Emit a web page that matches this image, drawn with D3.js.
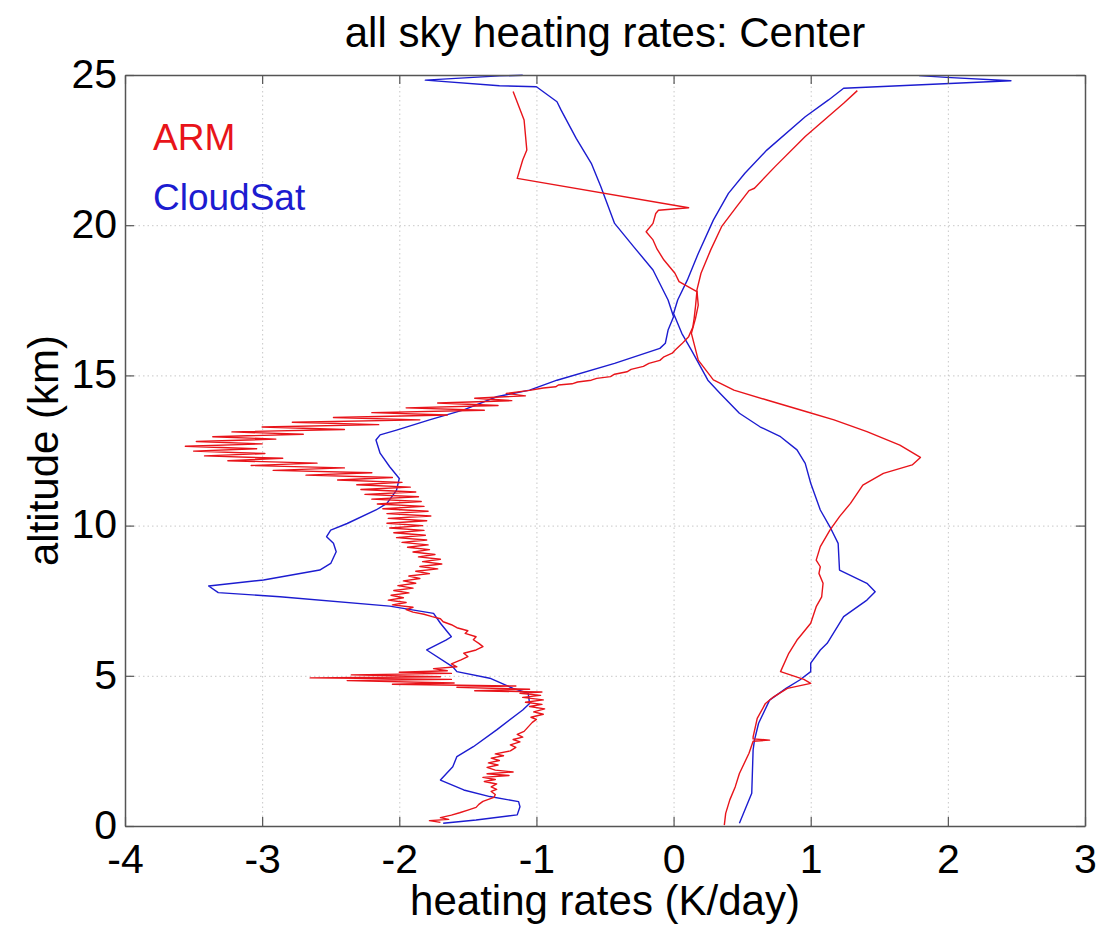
<!DOCTYPE html>
<html>
<head>
<meta charset="utf-8">
<script src="https://cdn.jsdelivr.net/npm/d3@7"></script>
<style>
  body { margin: 0; background: #fff; }
  svg { display: block; font-family: "Liberation Sans", Arial, sans-serif; }
  .grid line { stroke: #c8c8c8; stroke-dasharray: 1.5 3; }
  .grid .domain { display: none; }
  .frame .domain { stroke: #555; stroke-width: 1.5; }
  .frame line { stroke: #555; stroke-width: 1.2; }
</style>
</head>
<body>
<div id="chart"></div>
<script>
// heating rate (K/day) vs altitude (km)
const xTicks = [-4, -3, -2, -1, 0, 1, 2, 3];
const yTicks = [0, 5, 10, 15, 20, 25];

const armLW = [
  [-1.70, 0.12], [-1.78, 0.18], [-1.64, 0.22], [-1.70, 0.28], [-1.62, 0.36], [-1.56, 0.44],
  [-1.50, 0.53], [-1.44, 0.62], [-1.42, 0.72], [-1.39, 0.82], [-1.31, 0.95], [-1.30, 1.05],
  [-1.33, 1.15], [-1.29, 1.22], [-1.33, 1.30], [-1.29, 1.40], [-1.38, 1.48], [-1.30, 1.55],
  [-1.39, 1.62], [-1.20, 1.68], [-1.36, 1.74], [-1.17, 1.80], [-1.30, 1.86], [-1.36, 1.95],
  [-1.28, 2.03], [-1.35, 2.10], [-1.27, 2.18], [-1.33, 2.26], [-1.24, 2.34], [-1.30, 2.40],
  [-1.19, 2.50], [-1.15, 2.62], [-1.19, 2.70], [-1.12, 2.80], [-1.17, 2.88], [-1.10, 2.96],
  [-1.14, 3.05], [-1.09, 3.15], [-1.06, 3.30], [-1.03, 3.45], [-1.00, 3.55], [-1.04, 3.62],
  [-0.95, 3.72], [-1.02, 3.80], [-0.94, 3.90], [-1.05, 3.98], [-0.96, 4.05], [-1.08, 4.12],
  [-0.95, 4.20], [-1.10, 4.28], [-0.97, 4.35], [-1.12, 4.42], [-0.96, 4.46], [-1.45, 4.50],
  [-1.05, 4.55], [-1.58, 4.62], [-1.15, 4.66], [-2.05, 4.72], [-1.60, 4.76], [-2.38, 4.84],
  [-1.62, 4.88], [-2.65, 4.93], [-1.70, 4.97], [-2.35, 5.03], [-1.62, 5.08], [-2.00, 5.12],
  [-1.65, 5.17], [-1.75, 5.24], [-1.58, 5.30], [-1.62, 5.40], [-1.55, 5.53], [-1.50, 5.64],
  [-1.53, 5.75], [-1.44, 5.86], [-1.39, 5.97], [-1.42, 6.08], [-1.46, 6.20], [-1.44, 6.30],
  [-1.52, 6.41], [-1.50, 6.50], [-1.58, 6.60], [-1.62, 6.70], [-1.68, 6.80], [-1.70, 6.90],
  [-1.76, 6.97], [-1.82, 7.05], [-1.90, 7.12], [-1.95, 7.20], [-1.90, 7.28], [-2.05, 7.36],
  [-1.95, 7.44], [-2.08, 7.52], [-1.97, 7.60], [-2.06, 7.68], [-1.93, 7.76], [-2.04, 7.84],
  [-1.90, 7.92], [-2.01, 8.00], [-1.88, 8.08], [-1.97, 8.16], [-1.85, 8.24], [-1.93, 8.32],
  [-1.78, 8.40], [-1.88, 8.48], [-1.72, 8.56], [-1.85, 8.64], [-1.69, 8.72], [-1.83, 8.80],
  [-1.70, 8.88], [-1.86, 8.96], [-1.74, 9.04], [-1.90, 9.12], [-1.78, 9.20], [-1.94, 9.28],
  [-1.79, 9.36], [-1.98, 9.44], [-1.80, 9.52], [-2.02, 9.60], [-1.81, 9.68], [-2.04, 9.76],
  [-1.82, 9.84], [-2.07, 9.92], [-1.83, 10.00], [-2.09, 10.08], [-1.80, 10.16], [-2.08, 10.24],
  [-1.77, 10.32], [-2.09, 10.40], [-1.79, 10.48], [-2.12, 10.56], [-1.82, 10.64], [-2.16, 10.72],
  [-1.84, 10.80], [-2.20, 10.88], [-1.86, 10.96], [-2.25, 11.04], [-1.88, 11.12], [-2.28, 11.20],
  [-1.92, 11.28], [-2.31, 11.36], [-1.98, 11.44], [-2.45, 11.52], [-2.05, 11.60], [-2.68, 11.68],
  [-2.20, 11.76], [-2.92, 11.84], [-2.40, 11.92], [-3.08, 12.00], [-2.60, 12.08], [-3.25, 12.16],
  [-2.85, 12.24], [-3.42, 12.32], [-2.98, 12.40], [-3.50, 12.48], [-3.04, 12.56], [-3.56, 12.64],
  [-3.00, 12.72], [-3.48, 12.80], [-2.90, 12.88], [-3.36, 12.96], [-2.70, 13.04], [-3.22, 13.12],
  [-2.40, 13.20], [-3.00, 13.28], [-2.15, 13.36], [-2.78, 13.44], [-1.85, 13.52], [-2.48, 13.60],
  [-1.65, 13.68], [-2.20, 13.76], [-1.38, 13.84], [-1.95, 13.92], [-1.28, 14.00], [-1.72, 14.08],
  [-1.18, 14.16], [-1.45, 14.24], [-1.08, 14.32], [-1.22, 14.40], [-1.05, 14.50], [-0.95, 14.58],
  [-0.86, 14.62], [-0.84, 14.68], [-0.74, 14.72], [-0.70, 14.78], [-0.60, 14.84], [-0.56, 14.90],
  [-0.46, 14.96], [-0.43, 15.04], [-0.34, 15.12], [-0.31, 15.20], [-0.22, 15.30], [-0.18, 15.40],
  [-0.10, 15.50], [-0.07, 15.62], [-0.01, 15.74], [0.01, 15.84], [0.06, 16.05], [0.11, 16.29],
  [0.14, 16.60], [0.15, 16.90], [0.16, 17.30], [0.17, 17.79], [0.04, 18.12], [0.01, 18.40],
  [-0.07, 18.84], [-0.12, 19.20], [-0.15, 19.51], [-0.20, 19.78], [-0.15, 20.06], [-0.13, 20.39],
  [-0.11, 20.50], [0.11, 20.58], [-1.14, 21.56], [-1.10, 22.17], [-1.07, 22.50], [-1.09, 23.50],
  [-1.17, 24.45]
];

const armSW = [
  [0.37, 0.03], [0.38, 0.42], [0.41, 0.87], [0.45, 1.31], [0.48, 1.75], [0.55, 2.42],
  [0.58, 2.82], [0.70, 2.86], [0.58, 2.90], [0.58, 2.97], [0.61, 3.58], [0.67, 4.08],
  [0.73, 4.30], [0.83, 4.58], [1.00, 4.75], [0.95, 4.88], [0.78, 5.14], [0.84, 5.75],
  [0.90, 6.19], [0.92, 6.30], [1.00, 6.75], [1.04, 7.30], [1.08, 7.63], [1.09, 8.08],
  [1.06, 8.41], [1.07, 8.63], [1.04, 8.85], [1.07, 9.30], [1.14, 9.85], [1.21, 10.30],
  [1.29, 10.74], [1.38, 11.35], [1.53, 11.74], [1.74, 12.02], [1.80, 12.27], [1.65, 12.68],
  [1.41, 13.13], [1.17, 13.52], [0.97, 13.79], [0.68, 14.18], [0.44, 14.51], [0.29, 14.85],
  [0.18, 15.51], [0.13, 16.40], [0.16, 16.90], [0.18, 17.34], [0.17, 17.84], [0.20, 18.40],
  [0.27, 19.17], [0.35, 19.95], [0.46, 20.62], [0.55, 21.15], [0.59, 21.23], [0.74, 21.95],
  [0.96, 22.95], [1.24, 24.06], [1.34, 24.48]
];

const cloudsatLW = [
  [-1.68, 0.09], [-1.44, 0.20], [-1.14, 0.37], [-1.12, 0.64], [-1.13, 0.81], [-1.34, 0.98],
  [-1.53, 1.20], [-1.70, 1.53], [-1.61, 1.97], [-1.58, 2.31], [-1.46, 2.64], [-1.29, 3.20],
  [-1.10, 3.86], [-1.05, 4.08], [-1.06, 4.42], [-1.17, 4.58], [-1.34, 4.92], [-1.58, 5.14],
  [-1.61, 5.30], [-1.80, 5.86], [-1.66, 6.19], [-1.62, 6.30], [-1.70, 6.75], [-1.75, 7.08],
  [-2.07, 7.32], [-2.87, 7.63], [-3.32, 7.77], [-3.39, 7.99], [-2.99, 8.19], [-2.58, 8.52],
  [-2.50, 8.74], [-2.46, 9.13], [-2.48, 9.41], [-2.53, 9.63], [-2.50, 9.85], [-2.38, 10.07],
  [-2.17, 10.52], [-2.09, 10.74], [-2.02, 11.18], [-2.00, 11.57], [-2.07, 11.96], [-2.14, 12.41],
  [-2.17, 12.85], [-2.14, 13.02], [-2.02, 13.18], [-1.78, 13.52], [-1.53, 13.85], [-1.29, 14.29],
  [-1.05, 14.51], [-0.85, 14.84], [-0.43, 15.40], [-0.10, 15.90], [-0.06, 16.07], [-0.04, 16.51],
  [0.00, 16.95], [-0.04, 17.51], [-0.15, 18.51], [-0.29, 19.28], [-0.43, 20.06], [-0.53, 21.28],
  [-0.60, 22.06], [-0.71, 22.89], [-0.82, 23.83], [-0.85, 24.11], [-1.00, 24.61], [-1.27, 24.64],
  [-1.81, 24.83], [-1.27, 24.97], [-1.10, 24.99]
];

const cloudsatSW = [
  [0.48, 0.09], [0.57, 1.09], [0.58, 2.53], [0.59, 2.86], [0.62, 3.42], [0.70, 4.19],
  [0.82, 4.58], [0.92, 4.86], [1.00, 5.14], [1.00, 5.42], [1.07, 5.86], [1.12, 6.08],
  [1.24, 6.97], [1.41, 7.52], [1.47, 7.80], [1.41, 8.08], [1.21, 8.52], [1.20, 9.41],
  [1.14, 9.96], [1.07, 10.52], [1.00, 11.41], [0.96, 12.07], [0.90, 12.52], [0.78, 12.96],
  [0.63, 13.29], [0.48, 13.74], [0.34, 14.40], [0.25, 14.84], [0.13, 15.84], [0.06, 16.40],
  [0.00, 17.06], [0.03, 17.51], [0.10, 18.17], [0.18, 19.06], [0.29, 20.17], [0.40, 21.06],
  [0.52, 21.73], [0.68, 22.50], [0.96, 23.61], [1.13, 24.17], [1.24, 24.56], [2.46, 24.81],
  [1.99, 24.92], [1.79, 24.98]
];

const red = "#e8141a";
const blue = "#1c1cd0";

const width = 1101, height = 930;
const margin = { left: 125, right: 16, top: 75, bottom: 104 };
const innerW = width - margin.left - margin.right;
const innerH = height - margin.top - margin.bottom;

const svg = d3.select("#chart").append("svg")
  .attr("width", width)
  .attr("height", height);

const x = d3.scaleLinear().domain([-4, 3]).range([margin.left, margin.left + innerW]);
const y = d3.scaleLinear().domain([0, 25]).range([margin.top + innerH, margin.top]);

// dotted grid
svg.append("g")
  .attr("class", "grid")
  .attr("transform", `translate(0,${margin.top + innerH})`)
  .call(d3.axisBottom(x).tickValues(xTicks).tickSize(-innerH).tickFormat(""));
svg.append("g")
  .attr("class", "grid")
  .attr("transform", `translate(${margin.left},0)`)
  .call(d3.axisLeft(y).tickValues(yTicks).tickSize(-innerW).tickFormat(""));

// curves
const line = d3.line().x(d => x(d[0])).y(d => y(d[1]));
const series = [
  { data: cloudsatLW, color: blue },
  { data: cloudsatSW, color: blue },
  { data: armLW, color: red },
  { data: armSW, color: red },
];
svg.append("g").selectAll("path")
  .data(series)
  .join("path")
  .attr("d", d => line(d.data))
  .attr("fill", "none")
  .attr("stroke", d => d.color)
  .attr("stroke-width", 1.4)
  .attr("stroke-linejoin", "round");

// box with inward ticks on all sides
const tick = 9;
const fmt = d => String(d);
const bottomAxis = svg.append("g")
  .attr("class", "frame")
  .attr("transform", `translate(0,${margin.top + innerH})`)
  .call(d3.axisBottom(x).tickValues(xTicks).tickSizeInner(-tick).tickSizeOuter(0).tickPadding(24).tickFormat(fmt));
svg.append("g")
  .attr("class", "frame")
  .attr("transform", `translate(0,${margin.top})`)
  .call(d3.axisTop(x).tickValues(xTicks).tickSizeInner(-tick).tickSizeOuter(0).tickFormat(""));
const leftAxis = svg.append("g")
  .attr("class", "frame")
  .attr("transform", `translate(${margin.left},0)`)
  .call(d3.axisLeft(y).tickValues(yTicks).tickSizeInner(-tick).tickSizeOuter(0).tickPadding(8).tickFormat(fmt));
svg.append("g")
  .attr("class", "frame")
  .attr("transform", `translate(${margin.left + innerW},0)`)
  .call(d3.axisRight(y).tickValues(yTicks).tickSizeInner(-tick).tickSizeOuter(0).tickFormat(""));

svg.selectAll(".frame text")
  .attr("fill", "#000")
  .style("font-size", "41px")
  .style("font-family", '"Liberation Sans", Arial, sans-serif');
bottomAxis.selectAll("text").attr("dy", "0.55em");
leftAxis.selectAll("text").attr("dy", "0.3em");

// titles
svg.append("text")
  .attr("x", margin.left + innerW / 2)
  .attr("y", 47)
  .attr("text-anchor", "middle")
  .style("font-size", "42px")
  .text("all sky heating rates: Center");

svg.append("text")
  .attr("x", margin.left + innerW / 2)
  .attr("y", 915)
  .attr("text-anchor", "middle")
  .style("font-size", "42px")
  .text("heating rates (K/day)");

svg.append("text")
  .attr("transform", `translate(58,${margin.top + innerH / 2}) rotate(-90)`)
  .attr("text-anchor", "middle")
  .style("font-size", "42px")
  .text("altitude (km)");

// legend labels
svg.append("text")
  .attr("x", 153).attr("y", 150)
  .attr("fill", red)
  .style("font-size", "37px")
  .text("ARM");
svg.append("text")
  .attr("x", 153).attr("y", 210)
  .attr("fill", blue)
  .style("font-size", "37px")
  .text("CloudSat");
</script>
</body>
</html>
